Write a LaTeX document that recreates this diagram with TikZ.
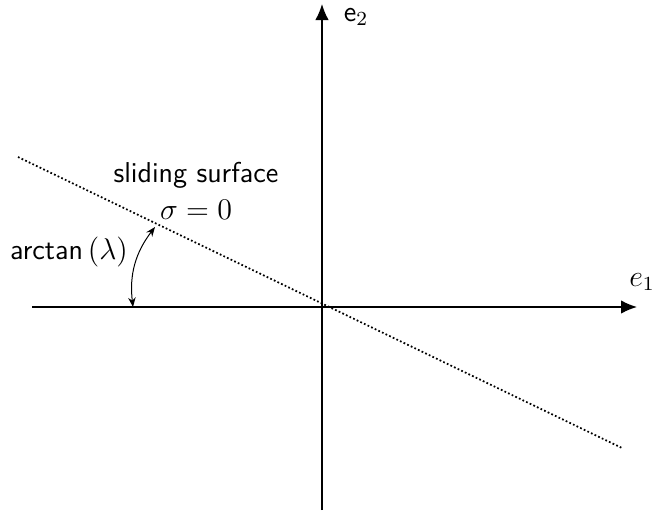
\documentclass[tikz,border=0pt]{standalone}
\usetikzlibrary{arrows.meta}
\begin{document}
\begin{tikzpicture}[x=0.4pt,y=-0.4pt,
  every node/.style={font=\fontsize{11.5}{14}\selectfont},
  axis/.style={line width=0.6pt,-{Latex[length=6.4pt,width=5.4pt]}},
  surf/.style={line width=0.7pt,dash pattern=on 0.7pt off 0.9pt},
  anglearc/.style={line width=0.4pt,{Stealth[length=3.8pt,width=3pt]}-{Stealth[length=3.8pt,width=3pt]}},
  lbl/.style={font=\fontsize{11.5}{14}\selectfont\sffamily}]
\useasboundingbox (0,0) rectangle (654,514);
\coordinate (xs) at (32,307);
\coordinate (xe) at (637,307);
\coordinate (ys) at (322,510);
\coordinate (ye) at (322,4);
\coordinate (ls) at (18,157);
\coordinate (le) at (622,448);
\coordinate (aA) at (133,307);
\coordinate (aB) at (155,227);
\draw[axis] (xs) -- (xe);
\draw[axis] (ys) -- (ye);
\draw[surf] (ls) -- (le);
\draw[anglearc] (aA) to[bend left=22] (aB);
\node[lbl] (ss) at (196,175) {sliding surface};
\node (sig) at (196,210) {$\sigma=0$};
\node[lbl] (arc) at (69,252) {arctan\,$(\lambda)$};
\node[lbl] (e2) at (356,17) {e$_2$};
\node (e1) at (642,282) {$e_1$};
\end{tikzpicture}
\end{document}
